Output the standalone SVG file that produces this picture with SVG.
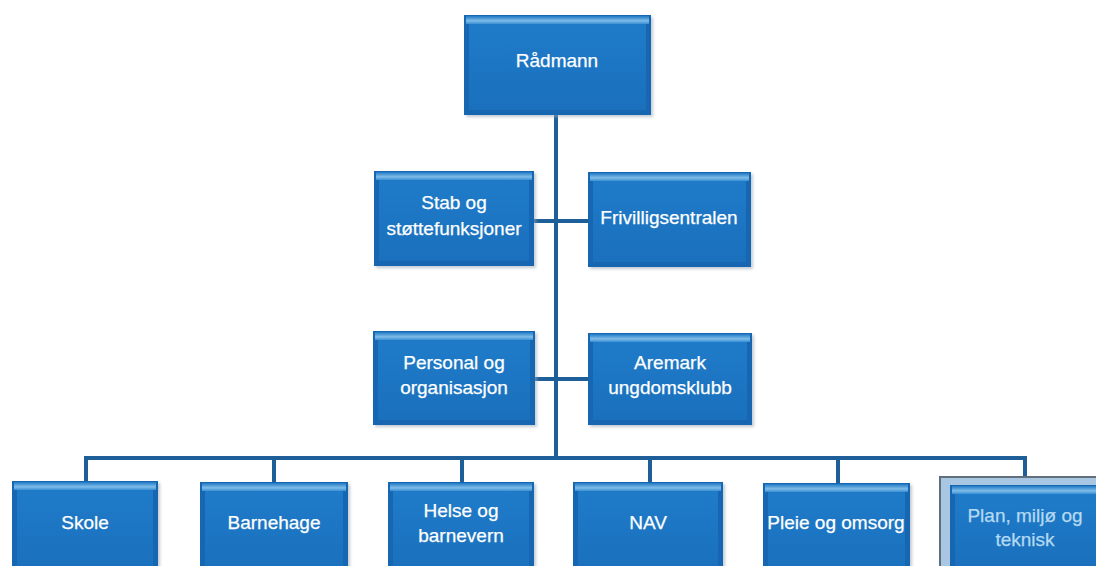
<svg xmlns="http://www.w3.org/2000/svg" width="1096" height="566" viewBox="0 0 1096 566">
<defs>
<linearGradient id="faceG" x1="0" y1="0" x2="0" y2="1">
<stop offset="0" stop-color="#1f7bc8"/>
<stop offset="1" stop-color="#1a70bd"/>
</linearGradient>
<linearGradient id="topG" x1="0" y1="0" x2="0" y2="1">
<stop offset="0" stop-color="#1f78c4"/>
<stop offset="0.6" stop-color="#7fbde9"/>
<stop offset="1" stop-color="#3a8fd3"/>
</linearGradient>
<filter id="sh" x="-10%" y="-10%" width="125%" height="130%">
<feDropShadow dx="2" dy="2" stdDeviation="1.5" flood-color="#9aa8b4" flood-opacity="0.6"/>
</filter>
</defs>
<style>
.o{fill:#1766b1;filter:url(#sh)}
.t{fill:url(#topG)}
.f{fill:url(#faceG)}
.c{fill:none;stroke:#1e5f9a;stroke-width:4;stroke-linecap:square}
text{font-family:"Liberation Sans",Arial,sans-serif;font-size:19px;fill:#ffffff;text-anchor:middle;stroke:#ffffff;stroke-width:0.25}
.fade{fill:#b4daf2;stroke:#b4daf2}
.frame{fill:#a9c7e3;stroke:#5f6f7c;stroke-width:2}
</style>
<rect width="1096" height="566" fill="#ffffff"/>

<g id="connectors">
<line class="c" x1="556" y1="115" x2="556" y2="458"/>
<line class="c" x1="534" y1="221" x2="588" y2="221"/>
<line class="c" x1="535" y1="379" x2="588" y2="379"/>
<polyline class="c" points="86,481 86,458 1025,458 1025,478"/>
<line class="c" x1="274" y1="458" x2="274" y2="482"/>
<line class="c" x1="462" y1="458" x2="462" y2="482"/>
<line class="c" x1="650" y1="458" x2="650" y2="482"/>
<line class="c" x1="838" y1="458" x2="838" y2="483"/>
</g>

<g id="radmann">
<rect class="o" x="464" y="15" width="187" height="100"/>
<rect class="t" x="466" y="16" width="183" height="8"/>
<rect class="f" x="469" y="24" width="177" height="86"/>
<text x="557" y="67">Rådmann</text>
</g>

<g id="stab">
<rect class="o" x="374" y="171" width="160" height="95"/>
<rect class="t" x="376" y="172" width="156" height="8"/>
<rect class="f" x="379" y="180" width="150" height="81"/>
<text x="454" y="209">Stab og</text>
<text x="454" y="235">støttefunksjoner</text>
</g>

<g id="frivilligsentralen">
<rect class="o" x="588" y="172" width="163" height="95"/>
<rect class="t" x="590" y="173" width="159" height="8"/>
<rect class="f" x="593" y="181" width="153" height="81"/>
<text x="669" y="224">Frivilligsentralen</text>
</g>

<g id="personal">
<rect class="o" x="373" y="331" width="162" height="94"/>
<rect class="t" x="375" y="332" width="158" height="8"/>
<rect class="f" x="378" y="340" width="152" height="80"/>
<text x="454" y="369">Personal og</text>
<text x="454" y="394">organisasjon</text>
</g>

<g id="aremark">
<rect class="o" x="588" y="333" width="164" height="92"/>
<rect class="t" x="590" y="334" width="160" height="8"/>
<rect class="f" x="593" y="342" width="154" height="78"/>
<text x="670" y="369">Aremark</text>
<text x="670" y="394">ungdomsklubb</text>
</g>

<g id="skole">
<rect class="o" x="12" y="481" width="146" height="95"/>
<rect class="t" x="14" y="482" width="142" height="8"/>
<rect class="f" x="17" y="490" width="136" height="81"/>
<text x="85" y="529">Skole</text>
</g>

<g id="barnehage">
<rect class="o" x="200" y="482" width="148" height="95"/>
<rect class="t" x="202" y="483" width="144" height="8"/>
<rect class="f" x="205" y="491" width="138" height="81"/>
<text x="274" y="529">Barnehage</text>
</g>

<g id="helse">
<rect class="o" x="388" y="482" width="146" height="95"/>
<rect class="t" x="390" y="483" width="142" height="8"/>
<rect class="f" x="393" y="491" width="136" height="81"/>
<text x="461" y="517">Helse og</text>
<text x="461" y="542">barnevern</text>
</g>

<g id="nav">
<rect class="o" x="573" y="482" width="150" height="95"/>
<rect class="t" x="575" y="483" width="146" height="8"/>
<rect class="f" x="578" y="491" width="140" height="81"/>
<text x="648" y="529">NAV</text>
</g>

<g id="pleie">
<rect class="o" x="763" y="483" width="147" height="95"/>
<rect class="t" x="765" y="484" width="143" height="8"/>
<rect class="f" x="768" y="492" width="137" height="81"/>
<text x="836" y="529">Pleie og omsorg</text>
</g>

<g id="plan">
<rect class="frame" x="940" y="477" width="160" height="95"/>
<rect class="o" x="950" y="485" width="150" height="85"/>
<rect class="t" x="952" y="486" width="148" height="8"/>
<rect class="f" x="955" y="494" width="145" height="74"/>
<text class="fade" x="1025" y="522">Plan, miljø og</text>
<text class="fade" x="1025" y="546">teknisk</text>
</g>
</svg>
